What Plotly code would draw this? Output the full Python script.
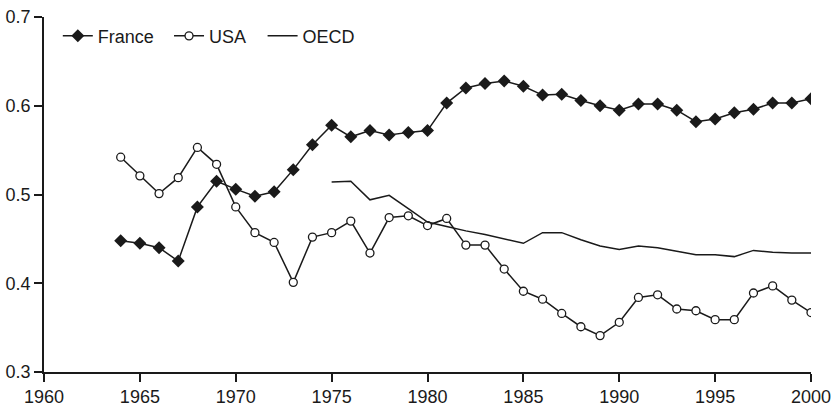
import plotly.graph_objects as go

years = list(range(1964, 2001))
france = [0.448, 0.445, 0.440, 0.425, 0.486, 0.515, 0.506, 0.498, 0.503, 0.528,
          0.556, 0.578, 0.565, 0.572, 0.567, 0.570, 0.572, 0.603, 0.620, 0.625,
          0.628, 0.622, 0.612, 0.613, 0.606, 0.600, 0.595, 0.602, 0.602, 0.595,
          0.582, 0.585, 0.592, 0.596, 0.603, 0.603, 0.608]
usa = [0.542, 0.521, 0.501, 0.519, 0.553, 0.534, 0.486, 0.457, 0.446, 0.401,
       0.452, 0.457, 0.470, 0.434, 0.474, 0.476, 0.465, 0.473, 0.443, 0.443,
       0.416, 0.391, 0.382, 0.366, 0.351, 0.341, 0.356, 0.384, 0.387, 0.371,
       0.369, 0.359, 0.359, 0.389, 0.397, 0.381, 0.367]
oecd_years = list(range(1975, 2001))
oecd = [0.514, 0.515, 0.494, 0.499, 0.484, 0.469, 0.464, 0.459, 0.455, 0.450,
        0.445, 0.457, 0.457, 0.449, 0.442, 0.438, 0.442, 0.440, 0.436, 0.432,
        0.432, 0.430, 0.437, 0.435, 0.434, 0.434]

x_ticks = [1960, 1965, 1970, 1975, 1980, 1985, 1990, 1995, 2000]
y_ticks = [0.3, 0.4, 0.5, 0.6, 0.7]

FONT = "Liberation Sans Narrow, Liberation Sans, Arial, sans-serif"
INK = "#1a1a1a"

fig = go.Figure()
fig.add_trace(go.Scatter(
    x=years, y=france, name="France", mode="lines+markers", legend="legend",
    line=dict(color=INK, width=1.5),
    marker=dict(symbol="diamond", size=10, color=INK, line=dict(color=INK, width=0)),
))
fig.add_trace(go.Scatter(
    x=years, y=usa, name="USA", mode="lines+markers", legend="legend2",
    line=dict(color=INK, width=1.5),
    marker=dict(symbol="circle", size=8, color="white", line=dict(color=INK, width=1.3)),
))
fig.add_trace(go.Scatter(
    x=oecd_years, y=oecd, name="OECD", mode="lines", legend="legend3",
    line=dict(color=INK, width=1.5),
))

legend_common = dict(orientation="h", y=0.946, xanchor="left", yanchor="middle",
                     bgcolor="rgba(0,0,0,0)", font=dict(family=FONT, size=18, color=INK),
                     itemwidth=30)

fig.update_layout(
    width=833, height=407,
    margin=dict(l=44, r=22, t=17, b=35),
    paper_bgcolor="white", plot_bgcolor="white",
    font=dict(family=FONT, size=18, color=INK),
    showlegend=True,
    legend=dict(x=0.018, **legend_common),
    legend2=dict(x=0.163, **legend_common),
    legend3=dict(x=0.285, **legend_common),
    xaxis=dict(range=[1960, 2000], tickvals=x_ticks, ticktext=[str(v) for v in x_ticks],
               automargin=False, ticklabeloverflow="allow",
               showgrid=False, zeroline=False, showline=True, linecolor=INK, linewidth=1.5,
               ticks="outside", ticklen=8, tickwidth=1.5, tickcolor=INK),
    yaxis=dict(range=[0.3, 0.7], tickvals=y_ticks, ticktext=[f"{v:.1f}" for v in y_ticks],
               automargin=False, ticklabeloverflow="allow",
               showgrid=False, zeroline=False, showline=True, linecolor=INK, linewidth=1.5,
               ticks="outside", ticklen=8, tickwidth=1.5, tickcolor=INK),
)

fig.write_html("out.html", config={"displayModeBar": False},
               post_script="document.body.style.margin='0';")
